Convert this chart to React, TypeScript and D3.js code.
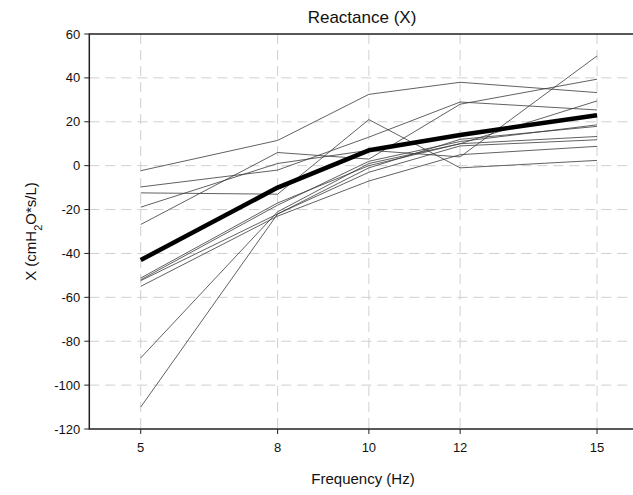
import React from "react";
import * as d3 from "d3";

const frequencies = [5, 8, 10, 12, 15];
const yTicks = [-120, -100, -80, -60, -40, -20, 0, 20, 40, 60];

const subject1 = [-2.3, 11.5, 32.5, 38, 33.3];
const subject2 = [-9.7, -2, 13, 29, 25.4];
const subject3 = [-12.4, -13, 21, -1, 2.4];
const subject4 = [-18.9, 1, 7, 4, 50];
const subject5 = [-26.8, 6, 3, 28, 39.4];
const subject6 = [-51.2, -17, 0, 10, 29.5];
const subject7 = [-52.4, -22, -1, 12, 17.9];
const subject8 = [-55, -23, -7, 5, 8.8];
const subject9 = [-87.6, -21, 1, 10, 13.3];
const subject10 = [-110, -22, -3, 9, 11.8];
const subject11 = [-52, -18, 2, 11, 18.6];
const meanValues = [-43, -10, 7, 14, 23];

const subjects = [
  subject1, subject2, subject3, subject4, subject5, subject6,
  subject7, subject8, subject9, subject10, subject11,
];

export default function App() {
  const W = 633;
  const H = 495;
  const left = 89.3;
  const top = 34;
  const bottom = 429;
  const x = d3.scaleLinear().domain([3.873, 16]).range([left, left + 12.127 * 45.63]);
  const y = d3.scaleLinear().domain([-120, 60]).range([bottom, top]);
  const line = d3
    .line<number>()
    .x((_, i) => x(frequencies[i]))
    .y((d) => y(d));
  const right = x(16);
  const font = "Arial, 'Liberation Sans', sans-serif";

  return (
    <svg width={W} height={H} style={{ position: "absolute", left: 0, top: 0, background: "#fff" }}>
      <rect x={0} y={0} width={W} height={H} fill="#fff" />
      {yTicks
        .filter((t) => t !== -120 && t !== 60)
        .map((t) => (
          <line key={"gy" + t} x1={left} x2={right} y1={y(t)} y2={y(t)} stroke="#cfcfcf" strokeWidth={1} strokeDasharray="10,6" />
        ))}
      {frequencies.map((f) => (
        <line key={"gx" + f} x1={x(f)} x2={x(f)} y1={top} y2={bottom} stroke="#cfcfcf" strokeWidth={1} strokeDasharray="10,6" />
      ))}
      {subjects.map((s, i) => (
        <path key={"s" + i} d={line(s) || ""} fill="none" stroke="#3a3a3a" strokeWidth={0.8} />
      ))}
      <path d={line(meanValues) || ""} fill="none" stroke="#000" strokeWidth={4.5} strokeLinejoin="round" />
      <rect x={left} y={top} width={right - left} height={bottom - top} fill="none" stroke="#222" strokeWidth={1.5} />
      {yTicks.map((t) => (
        <g key={"yt" + t}>
          <line x1={left - 5} x2={left} y1={y(t)} y2={y(t)} stroke="#222" strokeWidth={1} />
          <text x={left - 9} y={y(t)} dy="0.35em" textAnchor="end" fontSize={13} fontFamily={font} fill="#111">
            {t}
          </text>
        </g>
      ))}
      {frequencies.map((f) => (
        <g key={"xt" + f}>
          <line x1={x(f)} x2={x(f)} y1={bottom} y2={bottom + 5} stroke="#222" strokeWidth={1} />
          <text x={x(f)} y={bottom + 23} textAnchor="middle" fontSize={13} fontFamily={font} fill="#111">
            {f}
          </text>
        </g>
      ))}
      <text x={362} y={23} textAnchor="middle" fontSize={17} fontFamily={font} fill="#111">
        Reactance (X)
      </text>
      <text x={363} y={484} textAnchor="middle" fontSize={15} fontFamily={font} fill="#111">
        Frequency (Hz)
      </text>
      <text transform={`translate(36, ${(top + bottom) / 2}) rotate(-90)`} textAnchor="middle" fontSize={15} fontFamily={font} fill="#111">
        X (cmH<tspan baselineShift="sub" fontSize={11}>2</tspan>O*s/L)
      </text>
    </svg>
  );
}
